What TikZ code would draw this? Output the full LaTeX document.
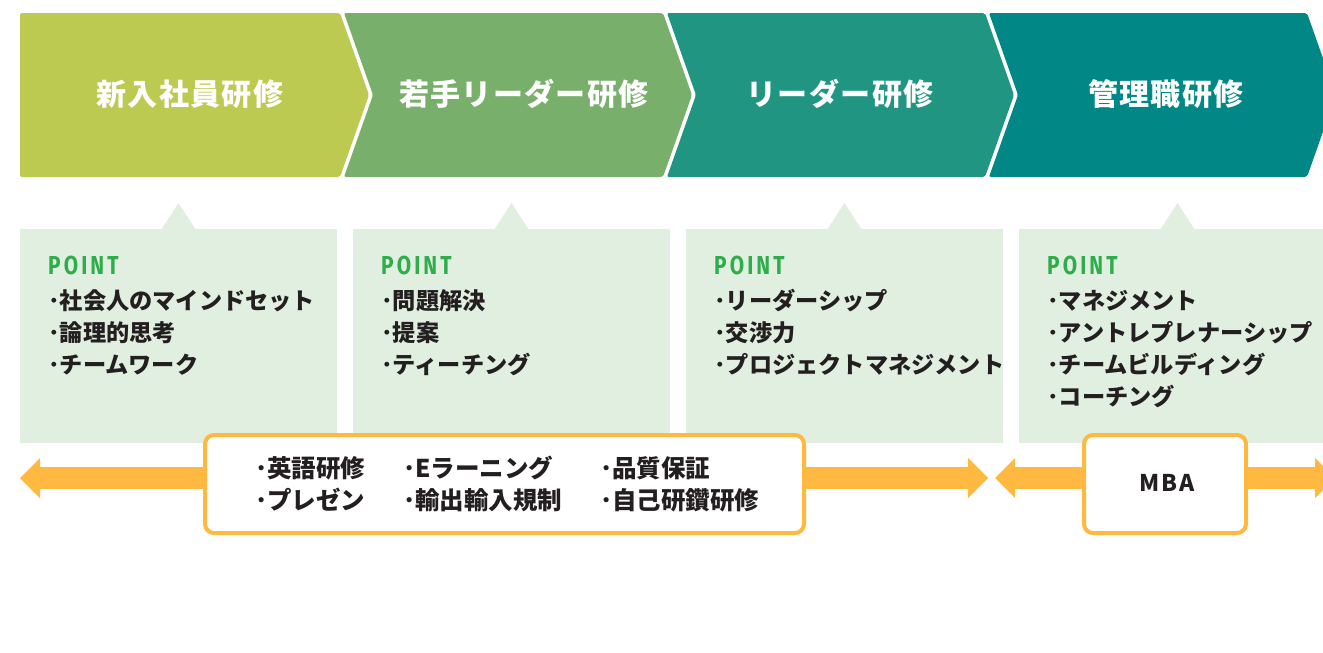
\documentclass[tikz,border=0pt]{standalone}
\usepackage{fontspec}
\setmainfont{Noto Sans CJK JP}
\newfontfamily\pointfont[FakeStretch=0.8,LetterSpace=12]{Fira Sans}
\newfontfamily\mbafont[LetterSpace=8]{Noto Sans CJK JP}
\newfontfamily\titlefont[LetterSpace=4.5]{Noto Sans CJK JP}
\usetikzlibrary{calc}
\definecolor{cA}{HTML}{BDCA52}
\definecolor{cB}{HTML}{78B06B}
\definecolor{cC}{HTML}{1F9582}
\definecolor{cD}{HTML}{008786}
\definecolor{pbg}{HTML}{E1EFE0}
\definecolor{pgreen}{HTML}{2EAD4B}
\definecolor{txt}{HTML}{231F20}
\definecolor{orng}{HTML}{FFB940}
\begin{document}
\begin{tikzpicture}[x=1pt,y=-1pt,
  title/.style={text=white,font=\titlefont\fontsize{30}{30}\selectfont\bfseries,inner sep=0},
  pointlbl/.style={text=pgreen,font=\pointfont\fontsize{26}{26}\selectfont\bfseries,anchor=west,inner sep=0,text height=0.69em,text depth=0pt},
  item/.style={text=txt,font=\fontsize{23.2}{23.2}\selectfont\bfseries,anchor=west,inner sep=0,text height=0.88em,text depth=0.12em},
  bitem/.style={item,font=\fontsize{24.5}{24.5}\selectfont\bfseries},
  obox/.style={draw=orng,line width=4pt,fill=white,rounded corners=9pt,inner sep=0,minimum height=98pt},
  shaft/.style={draw=orng,line width=22pt},
  chev/.style={rounded corners=2pt}]
\useasboundingbox (0,0) rectangle (1323,653);
\fill[white] (0,0) rectangle (1323,653);
\begin{scope}
\clip (0,0) rectangle (1323,653);
% chevrons
\fill[cA,chev] (20,13) -- (340,13) -- (369,95) -- (340,177) -- (20,177) -- cycle;
\fill[cB,chev] (344,13) -- (663,13) -- (692,95) -- (663,177) -- (344,177) -- (373,95) -- cycle;
\fill[cC,chev] (667,13) -- (985,13) -- (1014,95) -- (985,177) -- (667,177) -- (696,95) -- cycle;
\fill[cD,chev] (989,13) -- (1307,13) -- (1336,95) -- (1307,177) -- (989,177) -- (1018,95) -- cycle;
\node[title] (t1) at (190,94) {新入社員研修};
\node[title] (t2) at (524,94) {若手リーダー研修};
\node[title] (t3) at (840,94) {リーダー研修};
\node[title] (t4) at (1166,94) {管理職研修};
% point boxes
\foreach \x in {0,333,666,999}{
  \fill[pbg] (20+\x,229) rectangle (337+\x,443);
  \fill[pbg] (161+\x,230) -- (178.5+\x,203) -- (196+\x,230) -- cycle;
}
\node[pointlbl] (p1) at (48,271) {POINT};
\node[item] (p1a) at (48,306) {･社会人のマインドセット};
\node[item] (p1b) at (48,338) {･論理的思考};
\node[item] (p1c) at (48,370) {･チームワーク};
\node[pointlbl] (p2) at (381,271) {POINT};
\node[item] (p2a) at (381,306) {･問題解決};
\node[item] (p2b) at (381,338) {･提案};
\node[item] (p2c) at (381,370) {･ティーチング};
\node[pointlbl] (p3) at (714,271) {POINT};
\node[item] (p3a) at (714,306) {･リーダーシップ};
\node[item] (p3b) at (714,338) {･交渉力};
\node[item] (p3c) at (714,370) {･プロジェクトマネジメント};
\node[pointlbl] (p4) at (1047,271) {POINT};
\node[item] (p4a) at (1047,306) {･マネジメント};
\node[item] (p4b) at (1047,338) {･アントレプレナーシップ};
\node[item] (p4c) at (1047,370) {･チームビルディング};
\node[item] (p4d) at (1047,402) {･コーチング};
% orange boxes
\node[obox,minimum width=599pt] (b1) at (504.5,484) {};
\node[obox,minimum width=162pt] (b2) at (1165,484) {};
\node[bitem] (q1) at (255,474) {･英語研修};
\node[bitem] (q2) at (403,474) {･Eラーニング};
\node[bitem] (q3) at (600,474) {･品質保証};
\node[bitem] (q4) at (255,506) {･プレゼン};
\node[bitem] (q5) at (403,506) {･輸出輸入規制};
\node[bitem] (q6) at (600,506) {･自己研鑽研修};
\node[text=txt,font=\mbafont\fontsize{23}{23}\selectfont\bfseries,inner sep=0] (mba) at (1167,483) {MBA};
% arrows
\coordinate (L1) at (20,478);
\coordinate (R1) at (988,478);
\coordinate (L2) at (995,478);
\coordinate (R2) at (1335,478);
\draw[shaft] (b1.west |- L1) -- ($(L1)+(19,0)$);
\fill[orng] (L1) -- ++(20,-20) -- ++(0,40) -- cycle;
\draw[shaft] (b1.east |- R1) -- ($(R1)+(-19,0)$);
\fill[orng] (R1) -- ++(-20,-20) -- ++(0,40) -- cycle;
\draw[shaft] (b2.west |- L2) -- ($(L2)+(19,0)$);
\fill[orng] (L2) -- ++(20,-20) -- ++(0,40) -- cycle;
\draw[shaft] (b2.east |- R2) -- ($(R2)+(-19,0)$);
\fill[orng] (R2) -- ++(-20,-20) -- ++(0,40) -- cycle;
\end{scope}
\end{tikzpicture}
\end{document}
